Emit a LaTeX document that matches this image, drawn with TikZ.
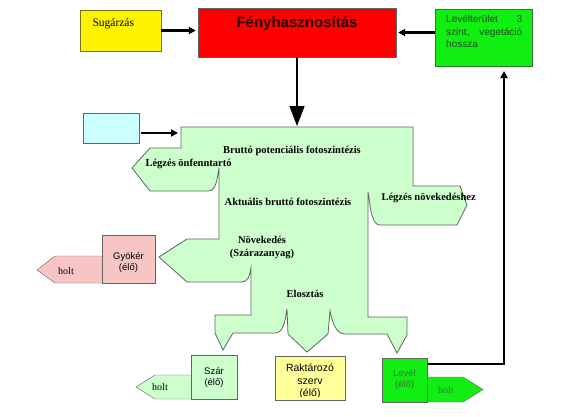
\documentclass[tikz,border=0pt]{standalone}
\usepackage{fontspec}
\setmainfont{Liberation Serif}
\newfontfamily\arial{Liberation Sans}
\usetikzlibrary{arrows.meta}

\definecolor{palegr}{HTML}{CCFFCC}
\definecolor{brightgr}{HTML}{11EE11}
\definecolor{pinkbox}{HTML}{F8C4C4}
\definecolor{cyanbox}{HTML}{CCFFFF}
\definecolor{paleyel}{HTML}{FFFF99}
\definecolor{edge}{HTML}{5F665F}
\definecolor{darkgr}{HTML}{2E7D2E}

\tikzset{
	box/.style={draw=edge, inner sep=0pt},
	arr/.style={line width=2.2pt, -{Triangle[length=7pt,width=7pt]}},
	bigarr/.style={line width=1.6pt, -{Triangle[length=20pt,width=15pt]}},
	boldtxt/.style={font=\bfseries\fontsize{10.5}{13}\selectfont, align=center},
	sanstxt/.style={font=\arial\fontsize{9.5}{11}\selectfont, align=center},
	holttxt/.style={font=\fontsize{10}{12}\selectfont}
}

\begin{document}
\begin{tikzpicture}[x=1pt, y=-1pt]
	\fill[white] (0,0) rectangle (570,416);
	\useasboundingbox (0,0) rectangle (570,416);

	% top row
	\node[box, fill=yellow, draw=olive!80!black, minimum width=81pt, minimum height=41pt] (sugarzas) at (120.5,30.5) {};
	\node[anchor=west, font=\fontsize{11.5}{13}\selectfont] (sugtxt) at (89,24) {Sugárzás};
	\node[box, fill=red, minimum width=198pt, minimum height=49pt] (feny) at (297,32.5) {};
	\node[font=\arial\bfseries\fontsize{15}{17}\selectfont, text=black!85!red] (fenytxt) at (297,24) {Fényhasznosítás};
	\node[box, fill=brightgr, draw=darkgr, minimum width=97pt, minimum height=57pt] (lai) at (483.5,37.5) {};
	\node[anchor=north west, inner sep=0pt, text width=76pt, align=justify, text=darkgr!60!black,
		font=\arial\fontsize{10}{12.5}\selectfont] (laitxt) at (446,15) {Levélterület 3 szint, vegetáció hossza};

	\draw[arr] (sugarzas.east) -- ([xshift=-2pt]sugarzas.east -| feny.west);
	\draw[arr] (lai.west |- feny.east) -- ([xshift=2pt]feny.east);
	\coordinate (shapetop) at (297,126);
	\draw[bigarr] (feny.south) -- (shapetop);

	% main flow shape
	\draw[edge, fill=palegr, line width=0.8pt] (181,127) -- (413,127) -- (413,186) -- (460,186) -- (467,205) -- (457,225)
		-- (380,225) .. controls (370,225) and (370,200) .. (368,192)
		-- (368,317) -- (407,317) -- (407,335) -- (397,353) -- (387,334)
		-- (345,334) .. controls (335,334) and (332,320) .. (330,311)
		-- (328,334) -- (307,352) -- (288,334)
		-- (287,309) .. controls (285,322) and (283,333) .. (275,333)
		-- (233,333) -- (223,350) -- (215,333) -- (215,315) -- (251,315)
		-- (251,268) .. controls (249,278) and (248,282) .. (240,282)
		-- (187,282) -- (159,257) -- (187,239) -- (219,239)
		-- (219,168) .. controls (217,180) and (216,191) .. (208,191)
		-- (150,191) -- (132,168) -- (150,148) -- (181,148) -- cycle;

	\node[boldtxt] (bpf) at (292,151) {Bruttó potenciális fotoszintézis};
	\node[boldtxt, anchor=west] (lonf) at (142,164) {Légzés önfenntartó};
	\node[boldtxt] (abf) at (288,202) {Aktuális bruttó fotoszintézis};
	\node[boldtxt, anchor=west] (lnov) at (378,198) {Légzés növekedéshez};
	\node[boldtxt] (novek) at (262,248) {Növekedés\\(Szárazanyag)};
	\node[boldtxt] (eloszt) at (305,294) {Elosztás};

	% input box
	\node[box, fill=cyanbox, minimum width=56pt, minimum height=30pt] (cyan) at (111,128) {};
	\coordinate (bptin) at (178,133);
	\draw[arr] ([xshift=2pt,yshift=-5pt]cyan.east) -- (bptin);

	% root
	\draw[edge, fill=pinkbox] (102,256) -- (55,256) -- (37,270) -- (55,283) -- (102,283);
	\node[holttxt] (gyholt) at (66,271) {holt};
	\node[box, fill=pinkbox, minimum width=53pt, minimum height=48pt] (gyoker) at (128.5,259) {};
	\node[sanstxt] (gytxt) at (128.5,262) {Gyökér\\(élő)};

	% stem
	\draw[edge, fill=palegr] (191,375) -- (155,375) -- (136,387) -- (155,399) -- (191,399);
	\node[holttxt] (szholt) at (160,387) {holt};
	\node[box, fill=palegr, minimum width=46pt, minimum height=44pt] (szar) at (214,377) {};
	\node[sanstxt] (sztxt) at (214,377) {Szár\\(élő)};

	% storage organ
	\node[box, fill=paleyel, minimum width=70pt, minimum height=44pt] (raktar) at (310,378) {};
	\begin{scope}
		\clip (276,357) rectangle (344,396);
		\node[sanstxt, font=\arial\fontsize{10.5}{12.5}\selectfont] (rktxt) at (310,381.5) {Raktározó\\szerv\\(élő)};
	\end{scope}

	% leaf
	\draw[edge, fill=brightgr] (427,377) -- (463,377) -- (483,389.5) -- (463,402) -- (427,402);
	\node[holttxt, text=darkgr] (lvholt) at (446,390) {holt};
	\node[box, fill=brightgr, minimum width=45pt, minimum height=44pt] (level) at (404.5,380) {};
	\node[sanstxt, text=darkgr] (lvtxt) at (404.5,379) {Levél\\(élő)};
	\coordinate (laiin) at (504,71);
	\draw[arr] ([yshift=-6pt]level.north east) -| (laiin);
\end{tikzpicture}
\end{document}
